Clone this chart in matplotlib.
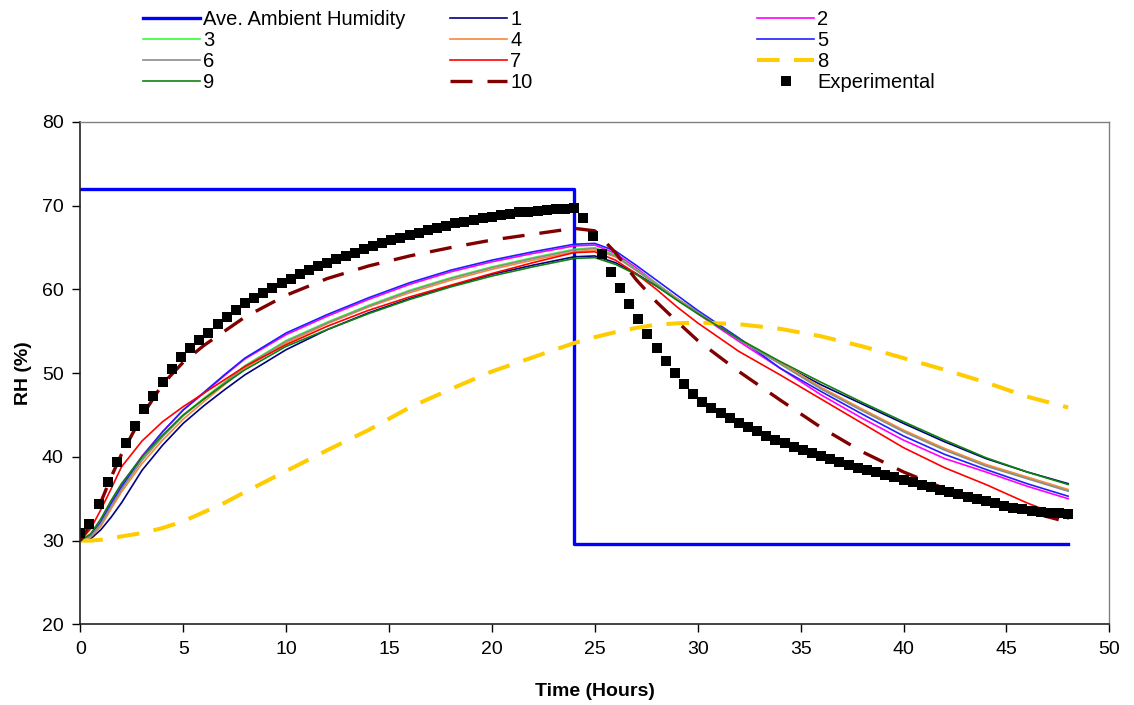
import numpy as np
import matplotlib
matplotlib.use("Agg")
import matplotlib.pyplot as plt

plt.rcParams['font.family'] = ['Liberation Sans', 'DejaVu Sans']

# ---------------- data ----------------
# ambient humidity step
ambient_t = [0, 24, 24, 48]
ambient_rh = [72.0, 72.0, 29.6, 29.6]

# experimental (109 samples from 0 to 48 h)
exp_t = np.linspace(0, 48, 109)
exp_rh = [30.87, 31.95, 34.37, 37.00, 39.35, 41.62, 43.65, 45.68, 47.27, 48.94,
          50.46, 51.89, 52.97, 53.92, 54.83, 55.83, 56.71, 57.54, 58.34,
          59.00, 59.60, 60.20, 60.75, 61.30, 61.80, 62.30, 62.75, 63.20, 63.60,
          64.00, 64.40, 64.80, 65.15, 65.50, 65.85, 66.20, 66.50, 66.80,
          67.10, 67.38, 67.62, 67.88, 68.09, 68.29, 68.49, 68.69, 68.89, 69.05,
          69.19, 69.30, 69.41, 69.49, 69.57, 69.62, 69.69,
          68.49, 66.42, 64.23, 62.12, 60.13, 58.26, 56.43, 54.64, 53.04, 51.45,
          49.98, 48.67, 47.51, 46.59, 45.87, 45.28, 44.64, 44.08, 43.57, 43.05,
          42.53, 42.02, 41.62, 41.22, 40.82, 40.42, 40.10, 39.71, 39.35, 39.03,
          38.71, 38.43, 38.16, 37.84, 37.56, 37.24, 36.96, 36.64, 36.37,
          36.04, 35.76, 35.53, 35.24, 34.97, 34.73, 34.45, 34.13, 33.93, 33.77,
          33.57, 33.45, 33.33, 33.26, 33.14]

# model time grid (hours)
model_t = [0, 0.5, 1, 1.5, 2, 3, 4, 5, 6, 7, 8, 10, 12, 14, 16, 18, 20, 22, 24,
           25, 26, 27, 28, 29, 30, 32, 34, 36, 38, 40, 42, 44, 46, 48]

rh_1 = [30, 30.2, 31.3, 32.8, 34.5, 38.4, 41.4, 44.0, 46.1, 48.0, 49.8, 52.8, 55.2, 57.2,
        58.9, 60.4, 61.8, 62.9, 63.9, 64.0, 63.2, 61.9, 60.4, 58.8, 57.2, 54.0, 51.2,
        48.6, 46.3, 44.0, 41.8, 39.8, 38.2, 36.8]
rh_2 = [30, 30.6, 32.3, 34.6, 36.6, 40.1, 43.0, 45.6, 47.6, 49.7, 51.7, 54.6, 56.8, 58.8,
        60.6, 62.1, 63.3, 64.3, 65.2, 65.3, 64.3, 62.6, 60.7, 58.9, 57.1, 53.8, 50.6,
        47.4, 44.6, 42.0, 39.8, 38.2, 36.5, 35.0]
rh_3 = [30, 30.6, 32.1, 34.2, 36.2, 39.7, 42.5, 45.0, 47.0, 48.9, 50.9, 53.9, 56.1, 58.1,
        59.9, 61.4, 62.7, 63.8, 64.8, 65.0, 64.1, 62.4, 60.7, 58.9, 57.3, 54.1, 51.2,
        48.2, 45.6, 43.1, 40.9, 39.0, 37.5, 36.0]
rh_4 = [30, 30.4, 31.7, 33.8, 35.8, 39.2, 42.0, 44.5, 46.6, 48.6, 50.6, 53.6, 55.9, 57.9,
        59.6, 61.1, 62.4, 63.5, 64.5, 64.7, 63.9, 62.3, 60.6, 58.9, 57.3, 54.1, 51.3,
        48.3, 45.7, 43.2, 41.0, 39.1, 37.6, 36.1]
rh_5 = [30, 30.6, 32.2, 34.4, 36.4, 40.0, 43.0, 45.6, 47.7, 49.8, 51.8, 54.8, 57.0, 59.0,
        60.8, 62.3, 63.5, 64.5, 65.4, 65.5, 64.6, 62.9, 61.1, 59.3, 57.5, 54.2, 50.6,
        47.8, 45.1, 42.5, 40.3, 38.5, 36.8, 35.3]
rh_6 = [30, 30.5, 32.0, 34.1, 36.1, 39.6, 42.4, 44.9, 46.9, 48.8, 50.8, 53.8, 56.0, 58.0,
        59.8, 61.3, 62.6, 63.7, 64.7, 64.9, 64.0, 62.3, 60.6, 58.8, 57.3, 54.0, 51.1,
        48.1, 45.5, 43.0, 40.8, 38.9, 37.4, 35.9]
rh_7 = [30, 31.4, 33.7, 36.2, 38.8, 41.9, 44.2, 46.0, 47.6, 49.2, 50.8, 53.4, 55.6, 57.5,
        59.1, 60.5, 61.9, 63.2, 64.4, 64.5, 63.5, 61.9, 60.0, 57.9, 56.0, 52.6, 49.8,
        46.9, 44.0, 41.1, 38.7, 36.7, 34.5, 32.6]
rh_8 = [30.0, 30.0, 30.1, 30.25, 30.5, 30.9, 31.5, 32.3, 33.4, 34.5, 35.8, 38.3, 40.8,
        43.2, 45.9, 48.1, 50.2, 51.9, 53.6, 54.3, 54.9, 55.4, 55.8, 55.95, 56.05, 55.85,
        55.3, 54.4, 53.2, 51.8, 50.4, 48.9, 47.2, 45.9]
rh_9 = [30, 30.8, 32.6, 34.8, 36.8, 40.0, 42.6, 45.0, 46.9, 48.7, 50.4, 53.2, 55.2, 57.1,
        58.8, 60.3, 61.6, 62.7, 63.7, 63.8, 63.0, 61.8, 60.4, 58.7, 57.1, 54.1, 51.4,
        48.9, 46.5, 44.2, 42.0, 39.9, 38.2, 36.7]
rh_10 = [30, 32.0, 34.6, 37.6, 40.3, 44.9, 48.7, 51.3, 53.3, 55.0, 56.7, 59.3, 61.3, 62.8,
         64.0, 65.0, 65.9, 66.6, 67.3, 67.0, 64.4, 61.2, 58.5, 56.15, 53.9, 50.2, 46.8,
         43.5, 40.6, 38.2, 36.2, 34.7, 33.5, 32.2]

x_ticks = list(range(0, 51, 5))
y_ticks = list(range(20, 81, 10))

# ---------------- figure ----------------
W, H = 1134, 705
fig = plt.figure(figsize=(W / 100, H / 100), dpi=100)
ax = fig.add_axes([80.3 / W, 1 - 624.3 / H, (1109.3 - 80.3) / W, (624.3 - 122) / H])

FS = 14
h_amb, = ax.plot(ambient_t, ambient_rh, color='#0000FF', lw=2.4, label='Ave. Ambient Humidity')
solid = dict(lw=1.2)
h1, = ax.plot(model_t, rh_1, color='#000080', label='1', **solid)
h2, = ax.plot(model_t, rh_2, color='#FF00FF', label='2', **solid)
h3, = ax.plot(model_t, rh_3, color='#33FF33', label='3', **solid)
h4, = ax.plot(model_t, rh_4, color='#F7883A', label='4', **solid)
h5, = ax.plot(model_t, rh_5, color='#2020FF', label='5', **solid)
h6, = ax.plot(model_t, rh_6, color='#8C8C8C', label='6', **solid)
h7, = ax.plot(model_t, rh_7, color='#FF0000', label='7', **solid)
h8, = ax.plot(model_t, rh_8, color='#FFCC00', lw=2.9, dashes=(5.6, 3.6), label='8')
h9, = ax.plot(model_t, rh_9, color='#108010', label='9', **solid)
h10, = ax.plot(model_t, rh_10, color='#800000', lw=2.4, dashes=(6.6, 4.5), label='10')
hexp, = ax.plot(exp_t, exp_rh, linestyle='none', marker='s', markersize=6.5,
                markerfacecolor='black', markeredgewidth=0, color='black', label='Experimental')

ax.set_xlim(0, 50)
ax.set_ylim(20, 80)
ax.set_xticks(x_ticks)
ax.set_yticks(y_ticks)
ax.tick_params(direction='out', length=6, width=1, labelsize=FS, colors='black', pad=6)
for s in ['left', 'bottom']:
    ax.spines[s].set_color('#222222')
    ax.spines[s].set_linewidth(1.2)
for s in ['top', 'right']:
    ax.spines[s].set_color('#808080')
    ax.spines[s].set_linewidth(1.0)
ax.set_xlabel('Time (Hours)', fontsize=FS, fontweight='bold', labelpad=18)
ax.set_ylabel('RH (%)', fontsize=FS, fontweight='bold', labelpad=7)

# legend, three columns placed individually
cols = [[h_amb, h3, h6, h9], [h1, h4, h7, h10], [h2, h5, h8, hexp]]
xs = [143, 450, 757]
for hs, x0 in zip(cols, xs):
    fig.legend(handles=hs, labels=[h.get_label() for h in hs], loc='upper left',
               bbox_to_anchor=(x0 / W, 1 - 10 / H), frameon=False, fontsize=14.5,
               handlelength=2.85, handletextpad=0.15, labelspacing=0.1,
               borderpad=0.0, borderaxespad=0.0, numpoints=1)

fig.savefig('out.png', dpi=100)
